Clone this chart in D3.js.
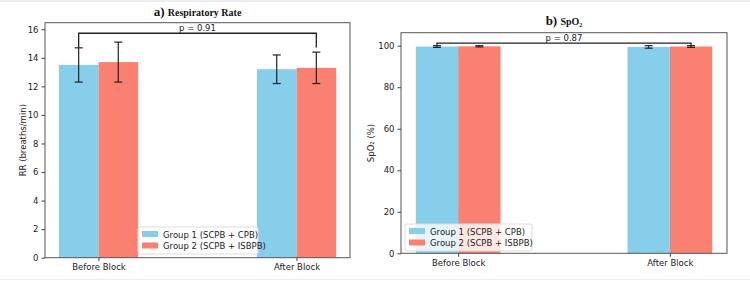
<!DOCTYPE html>
<html>
<head>
<meta charset="utf-8">
<script src="https://cdn.jsdelivr.net/npm/d3@7"></script>
<style>
  body { margin: 0; background: #fff; }
  svg { display: block; font-family: "DejaVu Sans", sans-serif; }
</style>
</head>
<body>
<svg id="chart" width="750" height="281"></svg>
<script>
// data
const categories = ["Before Block", "After Block"];
const groups = ["Group 1 (SCPB + CPB)", "Group 2 (SCPB + ISBPB)"];
const colors = ["#87ceeb", "#fa8072"];

const rrMean = [[13.5, 13.2], [13.7, 13.3]];   // [group][category]
const rrSd = [[1.2, 1.0], [1.4, 1.1]];
const rrTicks = [0, 2, 4, 6, 8, 10, 12, 14, 16];
const rrP = "p = 0.91";

const spMean = [[99.6, 99.4], [99.7, 99.6]];
const spSd = [[0.4, 0.6], [0.3, 0.4]];
const spTicks = [0, 20, 40, 60, 80, 100];
const spP = "p = 0.87";

const svg = d3.select("#chart");

// page edges
svg.append("rect").attr("x", 0).attr("y", 0).attr("width", 750).attr("height", 2).attr("fill", "#ececec");
svg.append("line").attr("x1", 0).attr("x2", 750).attr("y1", 279.5).attr("y2", 279.5).attr("stroke", "#ececec");

function panel(opt) {
  const x = d3.scaleLinear().domain([-0.27, 1.27]).range([opt.left, opt.right]);
  const y = d3.scaleLinear().domain(opt.ydomain).range([opt.bottom, opt.top]);
  const g = svg.append("g");
  const bw = 0.2;

  // bars
  opt.mean.forEach((vals, gi) => {
    g.selectAll(null).data(vals).enter().append("rect")
      .attr("x", (d, i) => x(i - bw + gi * bw))
      .attr("width", x(bw) - x(0))
      .attr("y", d => y(d))
      .attr("height", d => y(0) - y(d))
      .attr("fill", colors[gi]);
  });

  // error bars
  opt.mean.forEach((vals, gi) => {
    vals.forEach((m, i) => {
      const cx = x(i - bw / 2 + gi * bw);
      const s = opt.sd[gi][i];
      g.append("line").attr("x1", cx).attr("x2", cx).attr("y1", y(m - s)).attr("y2", y(m + s))
        .attr("stroke", "#222").attr("stroke-width", 1.2);
      [m - s, m + s].forEach(v => {
        g.append("line").attr("x1", cx - 4).attr("x2", cx + 4).attr("y1", y(v)).attr("y2", y(v))
          .attr("stroke", "#222").attr("stroke-width", 1.2);
      });
    });
  });

  // significance bracket
  const bx1 = x(-bw / 2), bx2 = x(1 + bw / 2);
  g.append("path")
    .attr("d", `M${bx1},${y(opt.legLow)}V${y(opt.legTop)}H${bx2}V${y(opt.legLow)}`)
    .attr("fill", "none").attr("stroke", "#222").attr("stroke-width", 1.3);
  g.append("text").attr("x", (bx1 + bx2) / 2).attr("y", y(opt.legTop) - 2)
    .attr("text-anchor", "middle").attr("font-size", 8.5).attr("fill", "#222").text(opt.p);

  // frame
  g.append("rect").attr("x", opt.left).attr("y", opt.top)
    .attr("width", opt.right - opt.left).attr("height", opt.bottom - opt.top)
    .attr("fill", "none").attr("stroke", "#555").attr("stroke-width", 1);

  // axes
  const ya = g.append("g").attr("transform", `translate(${opt.left},0)`)
    .call(d3.axisLeft(y).tickValues(opt.ticks).tickSize(3.5).tickPadding(3));
  const xa = g.append("g").attr("transform", `translate(0,${opt.bottom})`)
    .call(d3.axisBottom(x).tickValues([0, 1]).tickFormat(i => categories[i]).tickSize(3.5).tickPadding(3));
  [ya, xa].forEach(a => {
    a.select(".domain").remove();
    a.selectAll("line").attr("stroke", "#444");
    a.selectAll("text").attr("font-size", 8.5).attr("fill", "#222").attr("font-family", "DejaVu Sans");
  });

  // y label
  g.append("text").attr("transform", `translate(${opt.ylabX},${(opt.top + opt.bottom) / 2}) rotate(-90)`)
    .attr("text-anchor", "middle").attr("font-size", 8.5).attr("fill", "#222").text(opt.ylabel);

  // title
  const t = g.append("text").attr("x", (opt.left + opt.right) / 2).attr("y", opt.titleY)
    .attr("text-anchor", "middle").attr("font-family", "Liberation Serif, serif").attr("font-weight", "bold").attr("fill", "#111");
  t.append("tspan").attr("font-size", 13).text(opt.titleA + " ");
  t.append("tspan").attr("font-size", 10).text(opt.titleB);

  // legend
  const lg = g.append("g").attr("transform", `translate(${opt.legX},${opt.legY})`);
  lg.append("rect").attr("width", opt.legW).attr("height", 27).attr("rx", 2)
    .attr("fill", "#fff").attr("fill-opacity", 0.8).attr("stroke", "#ddd");
  groups.forEach((name, i) => {
    lg.append("rect").attr("x", 4).attr("y", 4 + i * 11.5).attr("width", 16).attr("height", 6).attr("fill", colors[i]);
    lg.append("text").attr("x", 25).attr("y", 10.5 + i * 11.5).attr("font-size", 8.5).attr("fill", "#222").text(name);
  });
}

panel({
  left: 45, right: 350, top: 22.7, bottom: 257.7, ydomain: [0, 16.46],
  mean: rrMean, sd: rrSd, ticks: rrTicks, p: rrP, legLow: 14.72, legTop: 15.72,
  ylabel: "RR (breaths/min)", ylabX: 26, titleA: "a)", titleB: "Respiratory Rate", titleY: 16,
  legX: 138, legY: 227, legW: 120
});

panel({
  left: 401, right: 727, top: 32.7, bottom: 253.3, ydomain: [0, 106.26],
  mean: spMean, sd: spSd, ticks: spTicks, p: spP, legLow: 100.3, legTop: 101.2,
  ylabel: "SpO₂ (%)", ylabX: 374, titleA: "b)", titleB: "SpO₂", titleY: 25,
  legX: 405, legY: 224, legW: 127
});
</script>
</body>
</html>
